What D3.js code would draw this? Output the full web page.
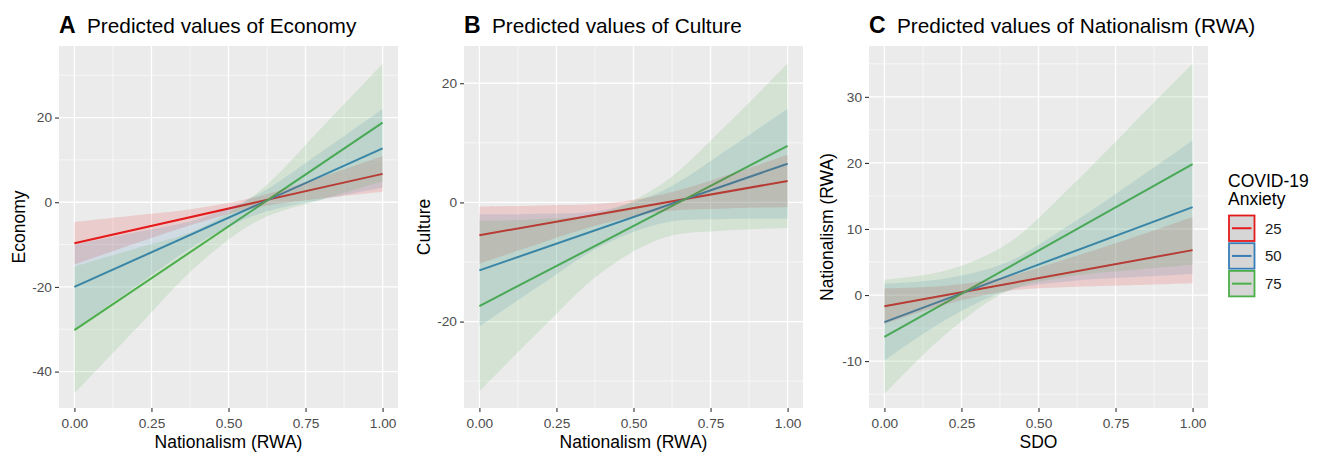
<!DOCTYPE html>
<html>
<head>
<meta charset="utf-8">
<script src="https://cdn.jsdelivr.net/npm/d3@7"></script>
<style>
body { margin: 0; background: #fff; }
text { font-family: "Liberation Sans", Arial, Helvetica, sans-serif; }
</style>
</head>
<body>
<svg id="chart"></svg>
<script>
const lineX = [0, 1];
const bandX = [0, 0.2, 0.4, 0.6, 0.8, 1];
const xTicks = [0, 0.25, 0.5, 0.75, 1];
const anxiety = ['25', '50', '75'];
const colors = ['#E41A1C', '#377EB8', '#4DAF4A'];

// A: Economy (rows = anxiety 25, 50, 75)
const econTicks = [-40, -20, 0, 20];
const econFit = [[-9.7, 6.7], [-20.0, 12.7], [-30.2, 18.8]];
const econLow = [
    [-14.7, -9.7, -4.9, -1.1, 0.9, 2.5],
    [-30.0, -19.8, -9.8, -2.7, 0.6, 3.4],
    [-45.2, -29.9, -14.8, -4.2, 0.6, 4.9]
];
const econHigh = [
    [-4.7, -3.1, -1.4, 1.4, 5.9, 10.9],
    [-10.0, -7.1, -4.0, 2.0, 11.8, 22.0],
    [-15.2, -10.9, -6.4, 2.6, 17.4, 32.7]
];

// B: Culture
const cultureTicks = [-20, 0, 20];
const cultureFit = [[-5.5, 3.6], [-11.4, 6.5], [-17.4, 9.5]];
const cultureLow = [
    [-10.3, -6.8, -3.6, -1.5, -1.0, -0.8],
    [-20.8, -13.8, -7.2, -3.4, -2.8, -2.7],
    [-31.7, -21.3, -11.6, -5.9, -4.7, -4.3]
];
const cultureHigh = [
    [-0.7, -0.5, -0.2, 1.4, 4.5, 8.0],
    [-2.0, -1.9, -1.3, 2.1, 8.7, 15.7],
    [-3.1, -2.8, -1.7, 3.4, 12.9, 23.3]
];

// C: Nationalism (RWA)
const rwaTicks = [-10, 0, 10, 20, 30];
const rwaFit = [[-1.7, 6.8], [-4.1, 13.3], [-6.35, 19.8]];
const rwaLow = [
    [-4.4, -1.4, 0.6, 1.2, 1.5, 1.8],
    [-9.9, -3.7, 0.7, 2.1, 2.7, 3.2],
    [-15.0, -5.9, 0.6, 2.8, 3.8, 4.6]
];
const rwaHigh = [
    [1.0, 1.4, 2.8, 5.6, 8.6, 11.8],
    [1.7, 2.5, 5.0, 10.6, 16.9, 23.4],
    [2.3, 3.7, 7.8, 16.2, 25.6, 35.0]
];

const svgWidth = 1322, svgHeight = 455;
const panelTop = 46, panelBottom = 408;

const panels = [
    { tag: 'A', title: 'Predicted values of Economy', yTitle: 'Economy', xTitle: 'Nationalism (RWA)',
      left: 59, right: 398, yDomain: [-48.6, 36.9], yTitleX: 25,
      ticks: econTicks, fit: econFit, low: econLow, high: econHigh },
    { tag: 'B', title: 'Predicted values of Culture', yTitle: 'Culture', xTitle: 'Nationalism (RWA)',
      left: 464, right: 803, yDomain: [-34.5, 26.25], yTitleX: 430,
      ticks: cultureTicks, fit: cultureFit, low: cultureLow, high: cultureHigh },
    { tag: 'C', title: 'Predicted values of Nationalism (RWA)', yTitle: 'Nationalism (RWA)', xTitle: 'SDO',
      left: 869, right: 1208, yDomain: [-17.1, 37.7], yTitleX: 833,
      ticks: rwaTicks, fit: rwaFit, low: rwaLow, high: rwaHigh }
];

const svg = d3.select('#chart')
    .attr('width', svgWidth)
    .attr('height', svgHeight);

panels.forEach(function (p) {
    const xScale = d3.scaleLinear().domain([-0.05, 1.05]).range([p.left, p.right]);
    const yScale = d3.scaleLinear().domain(p.yDomain).range([panelBottom, panelTop]);
    const g = svg.append('g');

    g.append('rect')
        .attr('x', p.left)
        .attr('y', panelTop)
        .attr('width', p.right - p.left)
        .attr('height', panelBottom - panelTop)
        .attr('fill', '#ebebeb');

    // grid: minor lines halfway between the major ones
    const step = p.ticks[1] - p.ticks[0];
    const yMinor = d3.range(p.ticks[0] - step / 2, p.ticks[p.ticks.length - 1] + step, step)
        .filter(v => v > p.yDomain[0] && v < p.yDomain[1]);
    const xMinor = [0.125, 0.375, 0.625, 0.875];

    g.selectAll('.yminor').data(yMinor).enter().append('line')
        .attr('x1', p.left).attr('x2', p.right)
        .attr('y1', d => yScale(d)).attr('y2', d => yScale(d))
        .attr('stroke', '#fff').attr('stroke-width', 0.6);
    g.selectAll('.xminor').data(xMinor).enter().append('line')
        .attr('y1', panelTop).attr('y2', panelBottom)
        .attr('x1', d => xScale(d)).attr('x2', d => xScale(d))
        .attr('stroke', '#fff').attr('stroke-width', 0.6);
    g.selectAll('.ymajor').data(p.ticks).enter().append('line')
        .attr('x1', p.left).attr('x2', p.right)
        .attr('y1', d => yScale(d)).attr('y2', d => yScale(d))
        .attr('stroke', '#fff').attr('stroke-width', 1.3);
    g.selectAll('.xmajor').data(xTicks).enter().append('line')
        .attr('y1', panelTop).attr('y2', panelBottom)
        .attr('x1', d => xScale(d)).attr('x2', d => xScale(d))
        .attr('stroke', '#fff').attr('stroke-width', 1.3);

    // fitted lines (drawn under the bands, as in the original)
    const line = d3.line().x((d, i) => xScale(lineX[i])).y(d => yScale(d));
    g.selectAll('.fit').data(p.fit).enter().append('path')
        .attr('d', d => line(d))
        .attr('fill', 'none')
        .attr('stroke', (d, i) => colors[i])
        .attr('stroke-width', 2);

    const area = d3.area()
        .x(d => xScale(d.x))
        .y0(d => yScale(d.lo))
        .y1(d => yScale(d.hi))
        .curve(d3.curveCatmullRom);
    g.selectAll('.band').data(p.low).enter().append('path')
        .attr('d', (d, i) => area(bandX.map((x, j) => ({ x: x, lo: d[j], hi: p.high[i][j] }))))
        .attr('fill', (d, i) => colors[i])
        .attr('fill-opacity', 0.15);

    // axes
    const yAxis = d3.axisLeft(yScale).tickValues(p.ticks).tickSize(4).tickPadding(3)
        .tickFormat(d => String(d));
    const xAxis = d3.axisBottom(xScale).tickValues(xTicks).tickSize(4).tickPadding(6)
        .tickFormat(d3.format('.2f'));
    const ya = g.append('g').attr('transform', `translate(${p.left},0)`).call(yAxis);
    const xa = g.append('g').attr('transform', `translate(0,${panelBottom})`).call(xAxis);
    [ya, xa].forEach(function (a) {
        a.select('.domain').remove();
        a.selectAll('line').attr('stroke', '#333').attr('stroke-width', 1.1);
        a.selectAll('text').attr('fill', '#4d4d4d').style('font-size', '13.7px')
            .style('font-family', '"Liberation Sans", Arial, sans-serif');
    });

    // titles
    const t = g.append('text').attr('y', 33).attr('fill', '#000');
    t.append('tspan').attr('x', p.left).style('font-weight', 'bold').style('font-size', '23px').text(p.tag);
    t.append('tspan').attr('x', p.left + 28).style('font-size', '20.8px').text(p.title);

    g.append('text')
        .attr('x', (xScale(0) + xScale(1)) / 2)
        .attr('y', 448)
        .attr('text-anchor', 'middle')
        .style('font-size', '17.5px')
        .text(p.xTitle);

    g.append('text')
        .attr('transform', `translate(${p.yTitleX},${(panelTop + panelBottom) / 2}) rotate(-90)`)
        .attr('text-anchor', 'middle')
        .style('font-size', '17.5px')
        .text(p.yTitle);
});

// legend
const legend = svg.append('g').attr('transform', 'translate(1228,0)');
legend.append('text').attr('x', 0).attr('y', 187).style('font-size', '17.5px').text('COVID-19');
legend.append('text').attr('x', 0).attr('y', 205).style('font-size', '17.5px').text('Anxiety');

const keySize = 25.5, keyStep = 27.7, keyTop = 215.5;
const keys = legend.selectAll('.key').data(anxiety).enter().append('g')
    .attr('transform', (d, i) => `translate(1,${keyTop + i * keyStep})`);
keys.append('rect')
    .attr('width', keySize).attr('height', keySize)
    .attr('fill', '#d6d6d6')
    .attr('stroke', (d, i) => colors[i])
    .attr('stroke-width', 1.8);
keys.append('line')
    .attr('x1', 3).attr('x2', keySize - 3)
    .attr('y1', keySize / 2).attr('y2', keySize / 2)
    .attr('stroke', (d, i) => colors[i])
    .attr('stroke-width', 2);
keys.append('text')
    .attr('x', 36).attr('y', keySize / 2).attr('dy', '0.35em')
    .style('font-size', '15px').attr('fill', '#1a1a1a')
    .text(d => d);
</script>
</body>
</html>
